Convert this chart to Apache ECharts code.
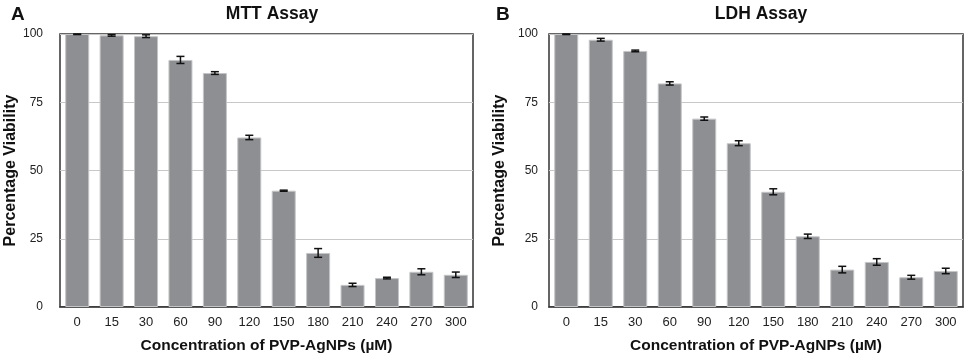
<!DOCTYPE html>
<html>
<head>
<meta charset="utf-8">
<script src="https://cdn.jsdelivr.net/npm/echarts@6/dist/echarts.min.js"></script>
<style>
  html, body { margin: 0; padding: 0; background: #fff; }
  #chart { width: 965px; height: 356px; }
</style>
</head>
<body>
<div id="chart"></div>
<script>
// concentrations (µM)
const categories = ['0', '15', '30', '60', '90', '120', '150', '180', '210', '240', '270', '300']
// MTT assay, % viability and error
const mttValues = [100, 99.5, 99.2, 90.5, 85.7, 62.1, 42.6, 19.8, 8.1, 10.6, 12.9, 11.8]
const mttErrors = [0.2, 0.3, 0.5, 1.3, 0.5, 0.8, 0.2, 1.6, 0.6, 0.3, 1.1, 1.0]
// LDH assay, % viability and error
const ldhValues = [100, 97.9, 93.8, 81.9, 69.0, 60.0, 42.2, 25.9, 13.7, 16.5, 10.9, 13.2]
const ldhErrors = [0.2, 0.5, 0.3, 0.6, 0.6, 0.9, 1.1, 0.8, 1.2, 1.2, 0.7, 1.0]
const yTicks = { min: 0, max: 100, interval: 25 }

const FONT = '"Liberation Sans", Arial, sans-serif'
const barColor = '#8e8f93'

const chartDom = echarts.init(document.getElementById('chart'))

// error bar drawing: vertical line + caps
function errorRender(params, api) {
	const idx = api.value(0)
	const lo = api.coord([idx, api.value(1)])
	const hi = api.coord([idx, api.value(2)])
	const cap = 4
	const style = { stroke: '#111', lineWidth: 1.5 }
	return {
		type: 'group',
		children: [
			{ type: 'line', shape: { x1: lo[0], y1: lo[1], x2: hi[0], y2: hi[1] }, style },
			{ type: 'line', shape: { x1: lo[0] - cap, y1: lo[1], x2: lo[0] + cap, y2: lo[1] }, style },
			{ type: 'line', shape: { x1: hi[0] - cap, y1: hi[1], x2: hi[0] + cap, y2: hi[1] }, style }
		]
	}
}

function errData(vals, errs) {
	return vals.map((v, i) => [i, Math.max(0, v - errs[i]), Math.min(100, v + errs[i])])
}

function xAxisCfg(gridIndex) {
	return {
		type: 'category',
		gridIndex,
		data: categories,
		axisTick: { show: false },
		axisLine: { lineStyle: { color: '#333', width: 1.5 } },
		axisLabel: { color: '#222', fontSize: 13, fontFamily: FONT, margin: 9 },
		name: 'Concentration of PVP-AgNPs (µM)',
		nameLocation: 'middle',
		nameGap: 31,
		nameTextStyle: { color: '#111', fontSize: 15.5, fontWeight: 'bold', fontFamily: FONT }
	}
}

function yAxisCfg(gridIndex, margin, nameGap) {
	return {
		type: 'value',
		gridIndex,
		min: yTicks.min,
		max: yTicks.max,
		interval: yTicks.interval,
		axisLine: { show: false },
		axisTick: { show: false },
		splitLine: { lineStyle: { color: '#c8c8c8', width: 1 } },
		axisLabel: { color: '#222', fontSize: 12, fontFamily: FONT, margin },
		name: 'Percentage Viability',
		nameLocation: 'middle',
		nameGap,
		nameTextStyle: { color: '#111', fontSize: 16, fontWeight: 'bold', fontFamily: FONT }
	}
}

function barSeries(idx, vals) {
	return {
		type: 'bar',
		xAxisIndex: idx,
		yAxisIndex: idx,
		data: vals,
		barWidth: 24,
		itemStyle: { color: barColor, borderColor: '#c4c5c7', borderWidth: 1 },
		silent: true,
		z: 2
	}
}

function errSeries(idx, vals, errs) {
	return {
		type: 'custom',
		xAxisIndex: idx,
		yAxisIndex: idx,
		renderItem: errorRender,
		data: errData(vals, errs),
		encode: { x: 0, y: [1, 2] },
		silent: true,
		z: 3
	}
}

const option = {
	animation: false,
	backgroundColor: '#fff',
	title: [
		{ text: 'A', left: 6, top: 0, textStyle: { fontSize: 19, fontWeight: 'bold', color: '#111', fontFamily: FONT } },
		{ text: 'MTT Assay', left: 267, top: 0, textAlign: 'center', textStyle: { fontSize: 17.5, fontWeight: 'bold', color: '#111', fontFamily: FONT } },
		{ text: 'B', left: 491, top: 0, textStyle: { fontSize: 19, fontWeight: 'bold', color: '#111', fontFamily: FONT } },
		{ text: 'LDH Assay', left: 756, top: 0, textAlign: 'center', textStyle: { fontSize: 17.5, fontWeight: 'bold', color: '#111', fontFamily: FONT } }
	],
	grid: [
		{ left: 60, top: 34, width: 413, height: 273, show: true, borderColor: '#333', borderWidth: 1.5, outerBoundsMode: 'none', containLabel: false },
		{ left: 549, top: 34, width: 414, height: 273, show: true, borderColor: '#333', borderWidth: 1.5, outerBoundsMode: 'none', containLabel: false }
	],
	xAxis: [xAxisCfg(0), xAxisCfg(1)],
	yAxis: [yAxisCfg(0, 17, 37), yAxisCfg(1, 11, 41)],
	series: [
		barSeries(0, mttValues),
		errSeries(0, mttValues, mttErrors),
		barSeries(1, ldhValues),
		errSeries(1, ldhValues, ldhErrors)
	]
}

chartDom.setOption(option, true)
</script>
</body>
</html>
